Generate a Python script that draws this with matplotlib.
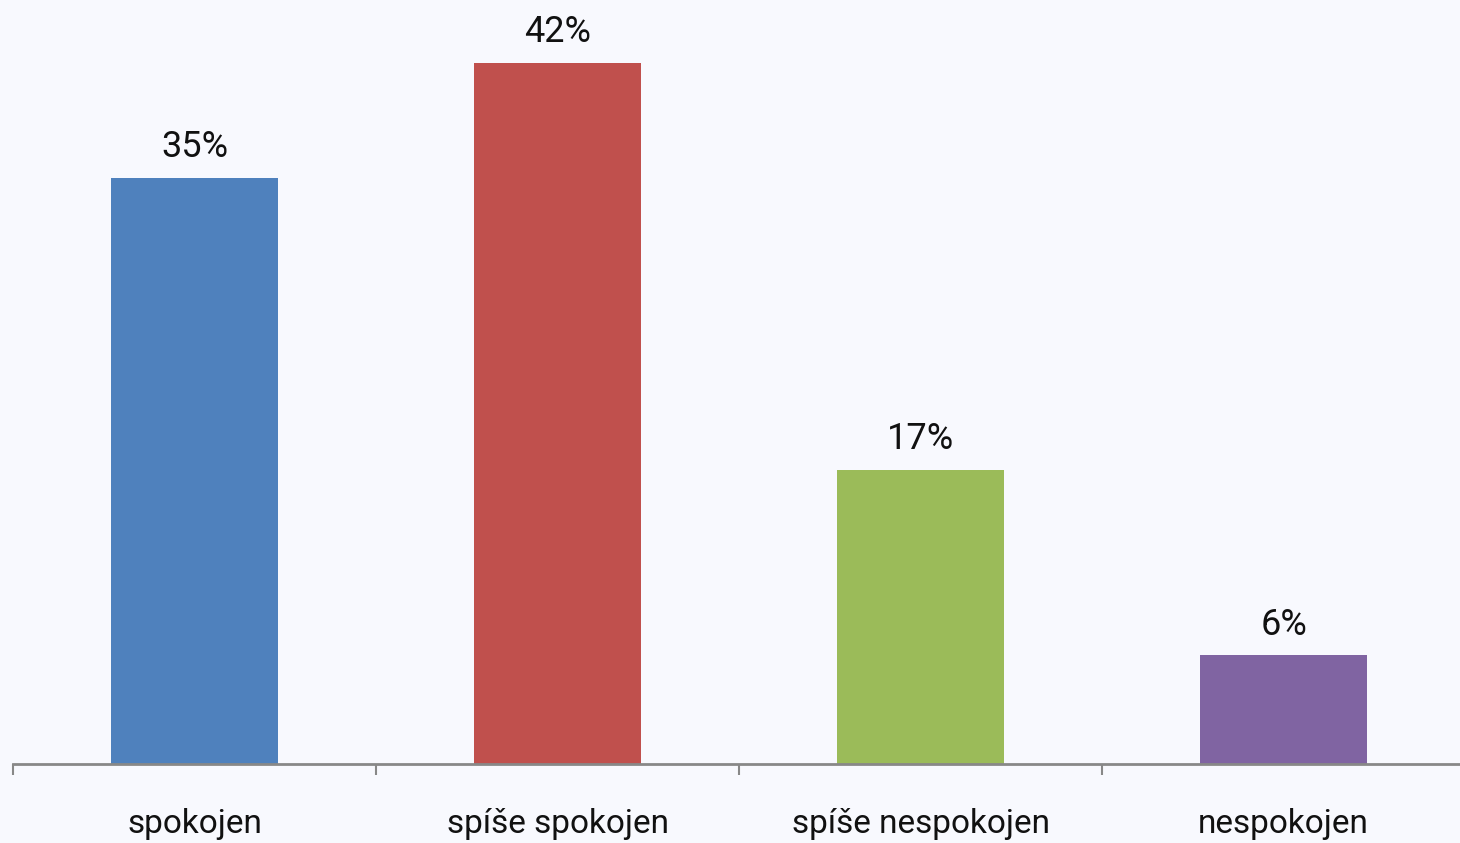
import matplotlib.pyplot as plt

# chart data
categories = ['spokojen', 'spíše spokojen', 'spíše nespokojen', 'nespokojen']
values = [35.1, 42.0, 17.6, 6.5]
value_labels = ['35%', '42%', '17%', '6%']
colors = ['#4F81BD', '#C0504D', '#9BBB59', '#8064A2']

plt.rcParams['font.family'] = ['Roboto', 'DejaVu Sans']

bg = '#F8F9FE'
fig = plt.figure(figsize=(14.6, 8.43), dpi=100, facecolor=bg)
ax = fig.add_axes([13 / 1460, 1 - 764 / 843, 1 - 13 / 1460, 764 / 843])
ax.set_facecolor(bg)

x = list(range(len(categories)))
bars = ax.bar(x, values, width=0.46, color=colors, zorder=2)

# value labels above bars
for b, lab in zip(bars, value_labels):
    ax.annotate(lab, (b.get_x() + b.get_width() / 2, b.get_height()),
                xytext=(0, 15), textcoords='offset points',
                ha='center', va='baseline', fontsize=26, color='#111111')

ax.set_xlim(-0.5, 3.486)
ax.set_ylim(0, 45.75)

for s in ['top', 'right', 'left']:
    ax.spines[s].set_visible(False)
ax.spines['bottom'].set_color('#888888')
ax.spines['bottom'].set_linewidth(2)
ax.set_yticks([])

# boundary ticks and category labels
ax.set_xticks([-0.5, 0.5, 1.5, 2.5])
ax.set_xticklabels([])
ax.tick_params(axis='x', which='major', length=8, width=1.5, color='#888888', direction='out')
ax.set_xticks(x, minor=True)
ax.set_xticklabels(categories, minor=True, fontsize=24, color='#111111')
ax.tick_params(axis='x', which='minor', length=0, pad=32)

fig.savefig('out.png', dpi=100, facecolor=bg)
